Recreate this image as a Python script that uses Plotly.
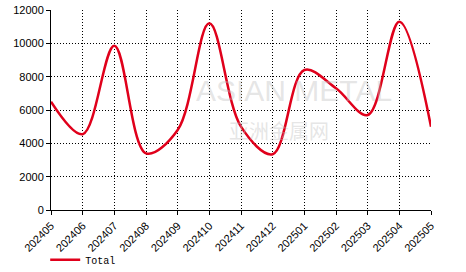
import plotly.graph_objects as go

months = ["202405", "202406", "202407", "202408", "202409", "202410", "202411",
          "202412", "202501", "202502", "202503", "202504", "202505"]
total = [6500, 4550, 9850, 3400, 4800, 11200, 5000, 3350, 8400, 7300, 5700, 11300, 5000]
y_ticks = [0, 2000, 4000, 6000, 8000, 10000, 12000]

fig = go.Figure()
fig.add_trace(go.Scatter(
    x=months, y=total, mode="lines", name="Total",
    line=dict(color="#e0001b", width=2.5, shape="spline", smoothing=1.0),
))

fig.add_annotation(text="ASIAN METAL", xref="paper", yref="paper", x=0.64, y=0.6,
                   showarrow=False, font=dict(family="Liberation Sans", size=30, color="rgba(190,190,190,0.4)"))
fig.add_annotation(text="亚洲金属网", xref="paper", yref="paper", x=0.6, y=0.4,
                   showarrow=False, font=dict(family="Noto Sans CJK SC", size=20, color="rgba(190,190,190,0.4)"))

grid = dict(showgrid=True, gridcolor="black", griddash="1px,2px", gridwidth=1.2)

fig.update_layout(
    width=466, height=272,
    margin=dict(l=51, r=35, t=10, b=62, autoexpand=False),
    paper_bgcolor="white", plot_bgcolor="white",
    showlegend=True,
    legend=dict(x=0.097, xref="container", y=0.045, yref="container",
                xanchor="left", yanchor="middle", orientation="h",
                font=dict(family="Liberation Mono", size=10, color="black"),
                bgcolor="rgba(0,0,0,0)", itemwidth=30),
    xaxis=dict(
        type="category", range=[0, 12], tickangle=-45, automargin=False,
        showline=True, linecolor="black", linewidth=1,
        ticks="outside", ticklen=4, tickcolor="black",
        tickfont=dict(family="Liberation Sans", size=11, color="black"),
        zeroline=False, **grid,
    ),
    yaxis=dict(
        range=[0, 12000], tickvals=y_ticks, ticktext=[str(v) for v in y_ticks],
        automargin=False,
        showline=True, linecolor="black", linewidth=1,
        ticks="outside", ticklen=4, tickcolor="black",
        tickfont=dict(family="Liberation Sans", size=11, color="black"),
        zeroline=False, **grid,
    ),
)

fig.write_html("out.html")
